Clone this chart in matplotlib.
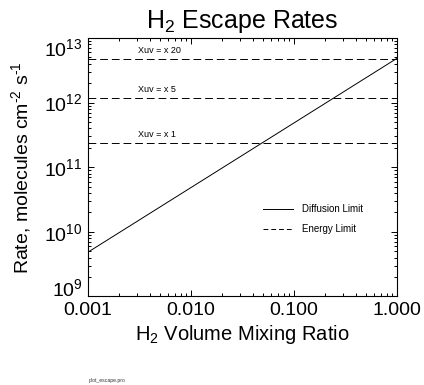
import numpy as np
import matplotlib
matplotlib.use("Agg")
import matplotlib.pyplot as plt
from matplotlib.ticker import LogLocator, FixedLocator, FixedFormatter, NullFormatter

plt.rcParams['font.family'] = ['Liberation Sans', 'DejaVu Sans']
plt.rcParams['mathtext.fontset'] = 'custom'
plt.rcParams['mathtext.rm'] = 'Liberation Sans'
plt.rcParams['mathtext.it'] = 'Liberation Sans'

# data
mixing_ratio = [0.001, 1.0]
diffusion_rate = [4.8e9, 4.8e12]
energy_levels = [2.4e11, 1.2e12, 4.8e12]
energy_labels = ["Xuv = x 1", "Xuv = x 5", "Xuv = x 20"]
x_ticks = [0.001, 0.01, 0.1, 1.0]
x_tick_labels = ["0.001", "0.010", "0.100", "1.000"]
y_ticks = [1e9, 1e10, 1e11, 1e12, 1e13]
y_tick_labels = ["$10^{9}$", "$10^{10}$", "$10^{11}$", "$10^{12}$", "$10^{13}$"]

fig = plt.figure(figsize=(4.24, 3.85), dpi=100)
ax = fig.add_axes([0.2064, 0.2299, 0.7288, 0.6714])

ax.plot(mixing_ratio, diffusion_rate, color='black', lw=0.7)
for level, label in zip(energy_levels, energy_labels):
    ax.axhline(level, color='black', lw=0.7, ls=(0, (8, 4)))
    ax.text(0.0031, level * 1.12, label, fontsize=6.5, ha='left', va='bottom')

ax.set_xscale('log')
ax.set_yscale('log')
ax.set_xlim(0.001, 1.0)
ax.set_ylim(1e9, 1e13)

ax.xaxis.set_major_locator(FixedLocator(x_ticks))
ax.xaxis.set_major_formatter(FixedFormatter(x_tick_labels))
ax.xaxis.set_minor_locator(LogLocator(base=10, subs=np.arange(2, 10)))
ax.xaxis.set_minor_formatter(NullFormatter())
ax.yaxis.set_major_locator(FixedLocator(y_ticks))
ax.yaxis.set_major_formatter(FixedFormatter(y_tick_labels))
ax.yaxis.set_minor_locator(LogLocator(base=10, subs=np.arange(2, 10)))
ax.yaxis.set_minor_formatter(NullFormatter())

ax.tick_params(which='both', direction='in', top=True, right=True, width=0.7)
ax.tick_params(which='major', length=4, labelsize=14)
ax.tick_params(axis='x', which='major', pad=4)
ax.tick_params(axis='y', which='major', pad=3.5)
ax.tick_params(which='minor', length=2)
for sp in ax.spines.values():
    sp.set_linewidth(0.8)

ax.set_title("H$_2$ Escape Rates", fontsize=18, pad=7)
ax.set_xlabel("H$_2$ Volume Mixing Ratio", fontsize=14.5, labelpad=3)
ax.set_ylabel("Rate, molecules cm$^{\u20102}$ s$^{\u20101}$", fontsize=14, labelpad=8)

fig.canvas.draw()
ylabs = ax.get_yticklabels()
ylabs[0].set_va('baseline')
ylabs[-1].set_va('top')

# legend drawn by hand like the original
ax.plot([0.0506, 0.099], [2.25e10, 2.25e10], color='black', lw=0.7)
ax.text(0.121, 2.25e10, "Diffusion Limit", fontsize=7, va='center')
ax.plot([0.0506, 0.099], [1.1e10, 1.1e10], color='black', lw=0.7, ls=(0, (5, 3)))
ax.text(0.121, 1.1e10, "Energy Limit", fontsize=7, va='center')

fig.text(0.208, 0.009, "plot_escape.pro", fontsize=3.7, color='#333333')

plt.savefig("out.png", dpi=100)
